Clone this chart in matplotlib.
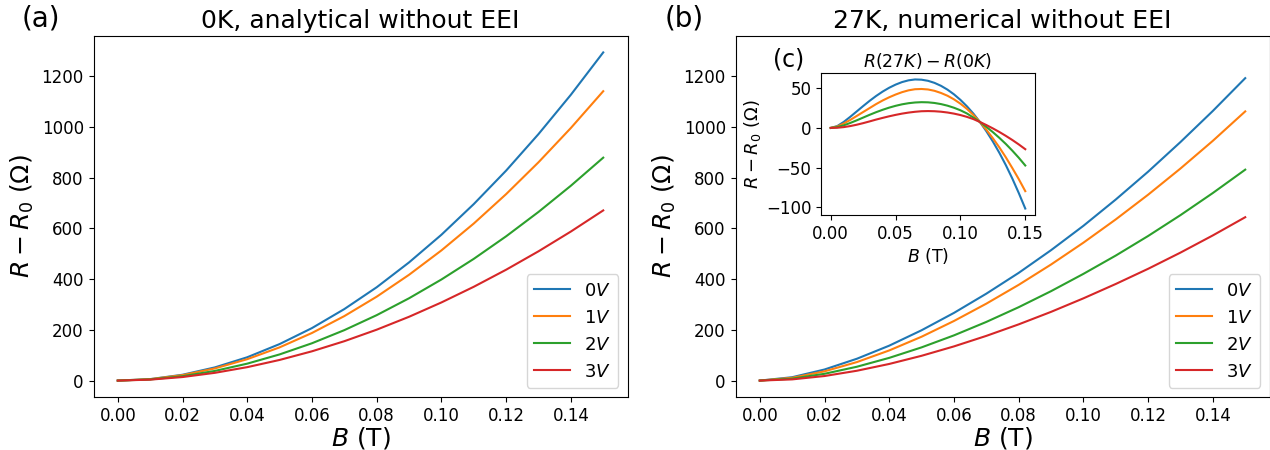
import numpy as np
import matplotlib
matplotlib.use("Agg")
import matplotlib.pyplot as plt

# Magnetic field (T)
B = [0.00, 0.01, 0.02, 0.03, 0.04, 0.05, 0.06, 0.07,
     0.08, 0.09, 0.10, 0.11, 0.12, 0.13, 0.14, 0.15]

# 0 K, analytical: R - R0 (Ohm) for gate voltages 0..3 V
r0k_0v = [0, 5.8, 23.0, 52.0, 92.0, 144.0, 207.0, 282.0,
          368.0, 466.0, 575.0, 696.0, 828.0, 972.0, 1127.0, 1294.0]
r0k_1v = [0, 5.5, 21.5, 48.0, 84.4, 131.0, 187.7, 254.3,
          330.8, 417.2, 513.3, 619.3, 735.3, 860.8, 996.0, 1141.0]
r0k_2v = [0, 4.5, 17.3, 38.1, 66.8, 103.2, 147.2, 198.9,
          258.0, 324.6, 398.6, 480.0, 568.9, 665.0, 768.3, 879.0]
r0k_3v = [0, 3.7, 14.0, 30.6, 53.0, 81.4, 115.5, 155.3,
          200.7, 251.6, 308.1, 369.9, 437.2, 509.8, 587.7, 671.0]

# 27 K, numerical: R - R0 (Ohm)
r27k_0v = [0, 13.3, 43.7, 86.1, 137.7, 198.5, 266.9, 342.7,
           424.7, 514.2, 610.3, 714.0, 823.8, 940.7, 1063.3, 1192.5]
r27k_1v = [0, 11.0, 36.5, 73.0, 118.9, 173.0, 235.0, 303.3,
           377.5, 457.7, 543.8, 635.6, 733.0, 836.3, 945.5, 1061.4]
r27k_2v = [0, 7.7, 26.8, 54.6, 89.6, 131.0, 178.3, 231.3,
           289.4, 352.6, 420.8, 493.0, 570.2, 652.5, 739.7, 831.7]
r27k_3v = [0, 4.7, 18.0, 38.8, 65.6, 97.8, 134.8, 176.3,
           221.7, 271.0, 324.3, 381.0, 440.8, 504.7, 572.5, 644.2]

# Difference R(27K) - R(0K) on a finer field grid
B_fine = [0.000, 0.005, 0.010, 0.015, 0.020, 0.025, 0.030, 0.035,
          0.040, 0.045, 0.050, 0.055, 0.060, 0.065, 0.070, 0.075,
          0.080, 0.085, 0.090, 0.095, 0.100, 0.105, 0.110, 0.115,
          0.120, 0.125, 0.130, 0.135, 0.140, 0.145, 0.150]
diff_0v = [0, 2.3, 7.5, 13.9, 20.7, 27.5, 34.1, 40.2,
           45.7, 50.5, 54.5, 57.7, 59.9, 61.0, 60.7, 59.3,
           56.7, 53.0, 48.2, 42.3, 35.3, 27.2, 18.0, 7.5,
           -4.2, -17.1, -31.3, -46.8, -63.7, -82.0, -101.5]
diff_1v = [0, 1.8, 5.5, 10.0, 15.0, 20.0, 25.0, 30.0,
           34.5, 38.5, 42.0, 45.0, 47.3, 48.7, 49.0, 48.4,
           46.7, 44.0, 40.5, 36.0, 30.5, 24.0, 16.3, 7.5,
           -2.3, -13.0, -24.5, -37.0, -50.5, -64.5, -79.6]
diff_2v = [0, 1.0, 3.2, 6.2, 9.5, 13.0, 16.5, 19.8,
           22.8, 25.5, 27.8, 29.7, 31.1, 32.0, 32.4, 32.2,
           31.4, 30.0, 28.0, 25.4, 22.2, 18.2, 13.0, 7.5,
           1.3, -5.3, -12.5, -20.2, -28.6, -37.6, -47.3]
diff_3v = [0, 0.2, 1.0, 2.3, 4.0, 6.0, 8.2, 10.5,
           12.6, 14.6, 16.4, 18.0, 19.3, 20.3, 21.0, 21.2,
           21.0, 20.4, 19.4, 18.0, 16.2, 13.9, 11.1, 7.5,
           3.6, -0.6, -5.1, -10.0, -15.2, -20.8, -26.8]

labels = ["$0V$", "$1V$", "$2V$", "$3V$"]
colors = ["#1f77b4", "#ff7f0e", "#2ca02c", "#d62728"]

W, H = 1270, 450
fig = plt.figure(figsize=(W / 100, H / 100), dpi=100)


def px_axes(x0, y0, x1, y1):
    return fig.add_axes([x0 / W, 1 - y1 / H, (x1 - x0) / W, (y1 - y0) / H])


ax_a = px_axes(93.5, 36, 627.5, 397)
ax_b = px_axes(735.5, 36, 1269.5, 397)

for ax, series, title in [
    (ax_a, [r0k_0v, r0k_1v, r0k_2v, r0k_3v], "0K, analytical without EEI"),
    (ax_b, [r27k_0v, r27k_1v, r27k_2v, r27k_3v], "27K, numerical without EEI"),
]:
    for y, c, lab in zip(series, colors, labels):
        ax.plot(B, y, color=c, lw=1.5, label=lab)
    ax.set_title(title, fontsize=18)
    ax.set_xlabel("$B$ (T)", fontsize=18, labelpad=0)
    ax.set_ylabel(r"$R-R_0$ ($\Omega$)", fontsize=18)
    ax.tick_params(labelsize=12)
    ax.set_xticks([0.00, 0.02, 0.04, 0.06, 0.08, 0.10, 0.12, 0.14])
    ax.set_yticks([0, 200, 400, 600, 800, 1000, 1200])
    ax.legend(loc="lower right", fontsize=13)

ax_b.set_ylim(ax_a.get_ylim())

# Inset: temperature difference
ax_c = px_axes(821, 73, 1035, 215)
for y, c in zip([diff_0v, diff_1v, diff_2v, diff_3v], colors):
    ax_c.plot(B_fine, y, color=c, lw=1.5)
ax_c.set_title("$R(27K)-R(0K)$", fontsize=12.5, pad=4)
ax_c.set_xlabel("$B$ (T)", fontsize=12.5, labelpad=2)
ax_c.set_ylabel(r"$R-R_0$ ($\Omega$)", fontsize=13, labelpad=2)
ax_c.set_xticks([0.00, 0.05, 0.10, 0.15])
ax_c.set_yticks([-100, -50, 0, 50])
ax_c.tick_params(labelsize=12)

fig.text(22 / W, 1 - 18 / H, "(a)", fontsize=20, va="center", ha="left")
fig.text(665 / W, 1 - 18 / H, "(b)", fontsize=20, va="center", ha="left")
fig.text(773 / W, 1 - 60 / H, "(c)", fontsize=17, va="center", ha="left")

fig.savefig("out.png", dpi=100)
